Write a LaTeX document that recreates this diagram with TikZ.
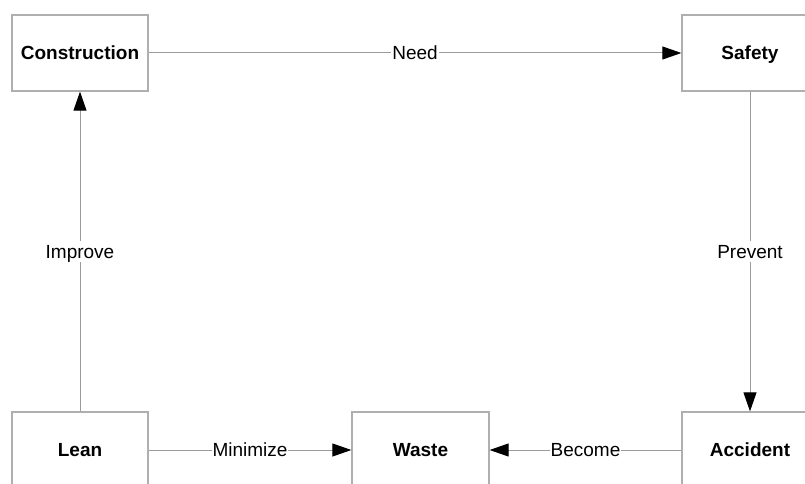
\documentclass[tikz,border=0pt]{standalone}
\usepackage{fontspec}
\setmainfont{Liberation Sans}
\usetikzlibrary{arrows.meta}
\definecolor{boxgray}{RGB}{175,175,175}
\definecolor{linegray}{RGB}{155,155,155}
\begin{document}
\begin{tikzpicture}[x=1pt, y=-1pt, line width=1.3pt, >={Triangle[length=19pt,width=13pt,color=black]},
concept node/.style={rectangle,draw=boxgray,fill=white,minimum width=136pt,minimum height=76pt,inner sep=0pt,text height=16pt,text depth=3pt,font=\fontsize{19}{21}\selectfont\bfseries},
rel label/.style={fill=white,inner sep=1pt,text height=16pt,text depth=3pt,font=\fontsize{19}{21}\selectfont}]
\useasboundingbox (0,0) rectangle (805,484);
\clip (0,0) rectangle (805,484);
\fill[white] (0,0) rectangle (805,484);
\begin{scope}
\node[concept node] (construction) at (80,53) {Construction};%top left
\node[concept node] (safety) at (750,53) {Safety};%top right
\node[concept node] (lean) at (80,450) {Lean};%bottom left
\node[concept node,minimum width=137pt] (waste) at (420.5,450) {Waste};%bottom middle
\node[concept node] (accident) at (750,450) {Accident};%bottom right
\end{scope}
\begin{scope}[every edge/.style={draw=linegray,line width=1pt,->}]
\draw  (construction) edge node[rel label]{Need} (safety);
\draw  (safety) edge node[rel label]{Prevent} (accident);
\draw  (accident) edge node[rel label]{Become} (waste);
\draw  (lean) edge node[rel label]{Minimize} (waste);
\draw  (lean) edge node[rel label]{Improve} (construction);
\end{scope}
\end{tikzpicture}
\end{document}
